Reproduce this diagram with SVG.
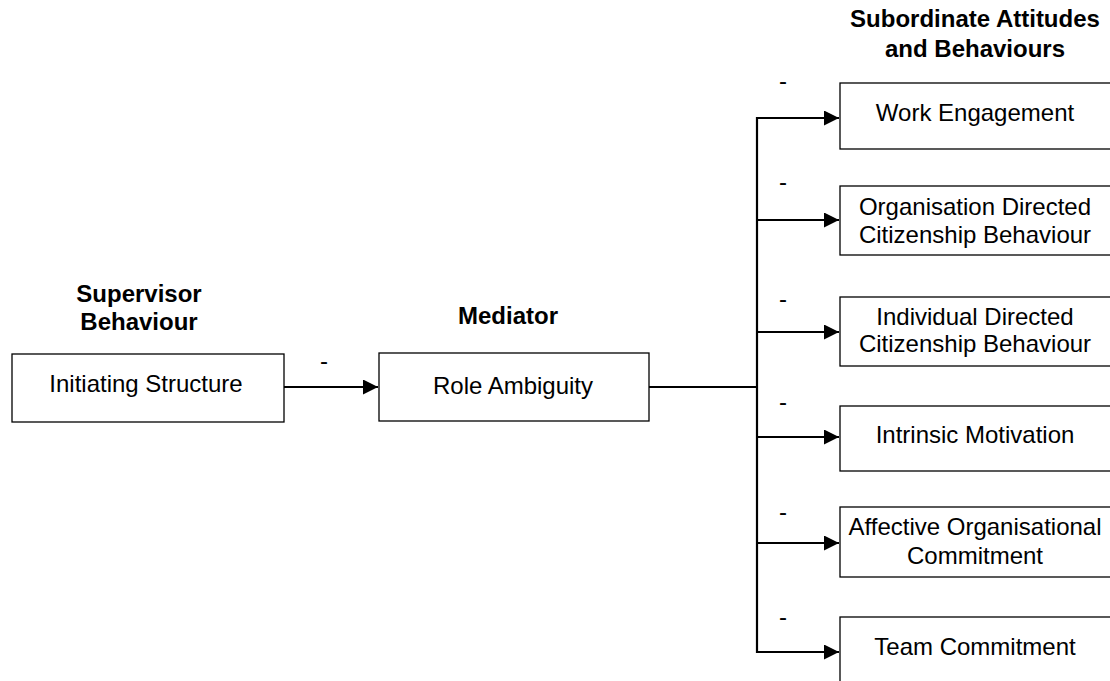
<svg xmlns="http://www.w3.org/2000/svg" width="1110" height="681" viewBox="0 0 1110 681">
<style>
.box{fill:#fff;stroke:#000;stroke-width:1.3}
.t{font-family:"Liberation Sans",Arial,sans-serif;font-size:24px;fill:#000;text-anchor:middle}
.h{font-family:"Liberation Sans",Arial,sans-serif;font-size:24px;font-weight:bold;fill:#000;text-anchor:middle}
.c{fill:none;stroke:#000;stroke-width:2.2}
</style>
<defs>
<marker id="ah" markerUnits="userSpaceOnUse" markerWidth="16" markerHeight="16" refX="15" refY="7.5" orient="auto">
<path d="M0,0 L15,7.5 L0,15 Z" fill="#000"/>
</marker>
</defs>
<rect width="1110" height="681" fill="#fff"/>
<g id="headers">
<text class="h" x="139" y="302">Supervisor</text>
<text class="h" x="139" y="330">Behaviour</text>
<text class="h" x="508" y="324">Mediator</text>
<text class="h" x="975" y="27">Subordinate Attitudes</text>
<text class="h" x="975" y="57">and Behaviours</text>
</g>
<g id="connectors">
<line class="c" x1="284" y1="387" x2="378" y2="387" marker-end="url(#ah)"/>
<line class="c" x1="649" y1="387" x2="757" y2="387"/>
<line class="c" x1="757" y1="117" x2="757" y2="653"/>
<line class="c" x1="756" y1="118" x2="839" y2="118" marker-end="url(#ah)"/>
<line class="c" x1="756" y1="220" x2="839" y2="220" marker-end="url(#ah)"/>
<line class="c" x1="756" y1="332" x2="839" y2="332" marker-end="url(#ah)"/>
<line class="c" x1="756" y1="437" x2="839" y2="437" marker-end="url(#ah)"/>
<line class="c" x1="756" y1="543" x2="839" y2="543" marker-end="url(#ah)"/>
<line class="c" x1="756" y1="652" x2="839" y2="652" marker-end="url(#ah)"/>
<text class="t" x="324" y="369">-</text>
<text class="t" x="783" y="89">-</text>
<text class="t" x="783" y="190">-</text>
<text class="t" x="783" y="307">-</text>
<text class="t" x="783" y="410">-</text>
<text class="t" x="783" y="520">-</text>
<text class="t" x="783" y="625">-</text>
</g>
<g id="n-initiating">
<rect class="box" x="12" y="354" width="272" height="68"/>
<text class="t" x="146" y="392">Initiating Structure</text>
</g>
<g id="n-role">
<rect class="box" x="379" y="353" width="270" height="68"/>
<text class="t" x="513" y="394">Role Ambiguity</text>
</g>
<g id="n-work">
<rect class="box" x="840" y="83" width="275" height="66"/>
<text class="t" x="975" y="121">Work Engagement</text>
</g>
<g id="n-ocb">
<rect class="box" x="840" y="186" width="275" height="69"/>
<text class="t" x="975" y="215">Organisation Directed</text>
<text class="t" x="975" y="243">Citizenship Behaviour</text>
</g>
<g id="n-icb">
<rect class="box" x="840" y="297" width="275" height="69"/>
<text class="t" x="975" y="325">Individual Directed</text>
<text class="t" x="975" y="352">Citizenship Behaviour</text>
</g>
<g id="n-intrinsic">
<rect class="box" x="840" y="406" width="275" height="65"/>
<text class="t" x="975" y="443">Intrinsic Motivation</text>
</g>
<g id="n-affective">
<rect class="box" x="840" y="507" width="275" height="70"/>
<text class="t" x="975" y="535">Affective Organisational</text>
<text class="t" x="975" y="564">Commitment</text>
</g>
<g id="n-team">
<rect class="box" x="840" y="617" width="275" height="80"/>
<text class="t" x="975" y="655">Team Commitment</text>
</g>
</svg>
